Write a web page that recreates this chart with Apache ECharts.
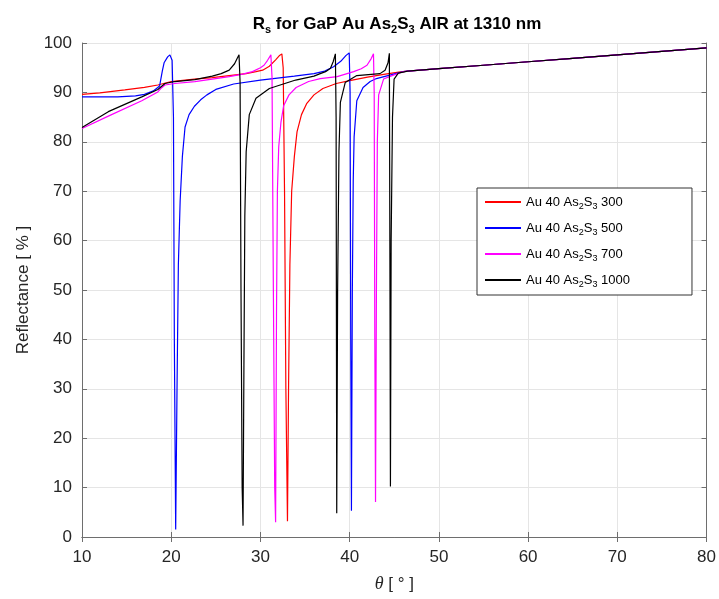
<!DOCTYPE html>
<html>
<head>
<meta charset="utf-8">
<script src="https://cdn.jsdelivr.net/npm/echarts@6/dist/echarts.min.js"></script>
<style>html,body{margin:0;padding:0;background:#fff;}#c{width:719px;height:599px;}</style>
</head>
<body>
<div id="c"></div>
<script>
// Shared tail (all curves merge above ~46°)
var tailTheta = [50, 55, 60, 65, 70, 75, 80];
var tailR     = [94.8, 95.5, 96.2, 96.9, 97.6, 98.3, 99.0];

var theta300 = [10, 12, 14.8, 17, 18.5, 20, 22.6, 24.6, 26.5, 28.4, 29.5, 30.25, 31, 31.7, 32.1, 32.4, 32.55, 32.7, 32.85, 33.03, 33.15, 33.3, 33.5, 33.8, 34.1, 34.6, 35.2, 36, 37, 38.5, 40, 42, 44, 45.5, 46.5];
var r300     = [89.6, 89.9, 90.5, 91.0, 91.5, 92.2, 92.7, 93.0, 93.4, 93.8, 94.2, 94.5, 95.3, 96.6, 97.4, 97.8, 95, 70, 30, 3.2, 30, 55, 70, 77, 82, 85.5, 87.8, 89.5, 90.8, 91.8, 92.4, 93.1, 93.7, 94.1, 94.3];

var theta500 = [10, 14, 16, 17, 18, 18.7, 19.0, 19.2, 19.6, 19.85, 20.1, 20.25, 20.35, 20.5, 20.65, 20.8, 21.0, 21.25, 21.55, 22.0, 22.6, 23.3, 24, 25, 27, 30, 33.8, 36, 37.2, 38.2, 39.0, 39.6, 39.95, 40.05, 40.12, 40.2, 40.3, 40.4, 40.5, 40.8, 41.5, 42.3, 43, 44.5, 46, 46.5];
var r500     = [89.1, 89.1, 89.3, 89.6, 90.3, 91.3, 94.3, 96.0, 97.2, 97.6, 96.5, 85, 40, 1.5, 30, 55, 68, 77, 83, 85.5, 87.2, 88.5, 89.5, 90.6, 91.7, 92.5, 93.3, 93.8, 94.3, 95.2, 96.3, 97.5, 98, 90, 40, 5.3, 50, 72, 81, 88.3, 91, 92.2, 92.8, 93.5, 94.2, 94.3];

var theta700 = [10, 12.95, 16.7, 18.5, 18.9, 19.3, 20.4, 22.65, 24.6, 26.5, 28, 29.1, 30.0, 30.4, 30.8, 31.17, 31.3, 31.45, 31.6, 31.7, 31.8, 31.9, 32.05, 32.3, 32.6, 33.2, 34, 35.4, 36.7, 38.6, 40.45, 41.3, 41.94, 42.4, 42.67, 42.75, 42.82, 42.9, 43.0, 43.1, 43.25, 43.8, 44.9, 46, 46.5];
var r700     = [82.7, 85.2, 88.3, 90.1, 90.9, 91.5, 91.8, 92.2, 92.7, 93.2, 93.7, 94.2, 95.0, 95.5, 96.5, 97.6, 93, 50, 10, 3.0, 45, 70, 79, 84, 87.3, 89.5, 91, 92.2, 92.8, 93.2, 94.2, 94.8, 95.5, 96.8, 97.8, 90, 40, 7.1, 50, 80, 89.5, 92.7, 93.5, 94.2, 94.3];

var theta1000 = [10, 12.95, 16.7, 18.5, 19.3, 20.4, 22.65, 24.6, 25.6, 26.5, 27.1, 27.4, 27.6, 27.72, 27.82, 27.95, 28.05, 28.15, 28.25, 28.4, 28.75, 29.5, 31.0, 33.95, 36, 36.7, 37.3, 37.85, 38.15, 38.4, 38.48, 38.55, 38.65, 38.8, 38.96, 39.5, 40.8, 43.4, 43.97, 44.3, 44.45, 44.52, 44.57, 44.65, 44.8, 44.98, 45.45, 46.5];
var r1000     = [82.9, 86.1, 89.1, 90.6, 91.8, 92.2, 92.6, 93.3, 93.8, 94.5, 95.8, 96.9, 97.6, 92, 50, 10, 2.3, 35, 65, 78, 85.5, 88.8, 90.8, 92.5, 93.3, 93.8, 94.2, 94.9, 96.2, 97.8, 85, 4.8, 50, 78, 88, 92, 93.4, 93.8, 94.5, 96, 97.9, 50, 10.2, 60, 85, 92.7, 93.9, 94.3];

var seriesNames  = ['Au 40 As2S3 300', 'Au 40 As2S3 500', 'Au 40 As2S3 700', 'Au 40 As2S3 1000'];
var seriesLabels = ['300', '500', '700', '1000'];
var seriesColors = ['#ff0000', '#0000ff', '#ff00ff', '#000000'];
var thetaSets = [theta300, theta500, theta700, theta1000];
var rSets     = [r300, r500, r700, r1000];

var xTicks = [10, 20, 30, 40, 50, 60, 70, 80];
var yTicks = [0, 10, 20, 30, 40, 50, 60, 70, 80, 90, 100];

function pairs(xs, ys) {
  var out = [];
  for (var i = 0; i < xs.length; i++) out.push([xs[i], ys[i]]);
  for (var j = 0; j < tailTheta.length; j++) out.push([tailTheta[j], tailR[j]]);
  return out;
}

var FONT = 'Liberation Sans, Arial, sans-serif';
var chart = echarts.init(document.getElementById('c'), null, {renderer: 'canvas'});

var series = seriesNames.map(function (n, i) {
  return {
    name: n, type: 'line', showSymbol: false, symbol: 'none',
    data: pairs(thetaSets[i], rSets[i]),
    lineStyle: {color: seriesColors[i], width: 1.2},
    itemStyle: {color: seriesColors[i]},
    z: 2 + i, animation: false
  };
});

var labelMap = {};
seriesNames.forEach(function (n, i) {
  labelMap[n] = '{a|Au 40 As}{s|2}{a|S}{s|3}{a| ' + seriesLabels[i] + '}';
});

chart.setOption({
  animation: false,
  backgroundColor: '#ffffff',
  title: {
    text: '{b|R}{bs|s}{b| for GaP Au As}{bs|2}{b|S}{bs|3}{b| AIR at 1310 nm}',
    left: 392, top: 6, textAlign: 'center',
    textStyle: {
      fontFamily: FONT,
      rich: {
        b: {fontSize: 17, fontWeight: 'bold', color: '#000', fontFamily: FONT, lineHeight: 22, verticalAlign: 'bottom'},
        bs: {fontSize: 11, fontWeight: 'bold', color: '#000', fontFamily: FONT, lineHeight: 22, verticalAlign: 'bottom', padding: [0, 0, -2, 0]}
      }
    }
  },
  legend: {
    orient: 'vertical', left: 477, top: 188,
    padding: [8, 62, 6, 7],
    itemWidth: 36, itemHeight: 14, itemGap: 11,
    backgroundColor: '#ffffff', borderColor: '#333333', borderWidth: 1,
    itemStyle: {opacity: 0},
    data: seriesNames,
    formatter: function (n) { return labelMap[n]; },
    textStyle: {
      fontFamily: FONT, fontSize: 13, color: '#000',
      rich: {
        a: {fontSize: 13, fontFamily: FONT, color: '#000', lineHeight: 14, verticalAlign: 'bottom'},
        s: {fontSize: 9, fontFamily: FONT, color: '#000', lineHeight: 14, verticalAlign: 'bottom', padding: [0, 0, -2, 0]}
      }
    }
  },
  grid: {left: 82, right: 12, top: 43, bottom: 62, containLabel: false},
  xAxis: [{
    type: 'value', min: 10, max: 80, interval: 10,
    name: '{i|θ} [ ° ]', nameLocation: 'middle', nameGap: 38,
    nameTextStyle: {fontFamily: FONT, fontSize: 17, color: '#262626',
      rich: {i: {fontStyle: 'italic', fontFamily: 'Liberation Serif, serif', fontSize: 18, color: '#262626'}}},
    axisLine: {show: true, lineStyle: {color: '#6e6e6e', width: 1}},
    axisTick: {show: true, inside: true, length: 5, lineStyle: {color: '#6e6e6e'}},
    axisLabel: {fontFamily: FONT, fontSize: 17, color: '#262626', margin: 12,
      formatter: function (v) { return xTicks.indexOf(v) >= 0 ? String(v) : ''; }},
    splitLine: {show: true, lineStyle: {color: '#e5e5e5', width: 1}}
  }, {
    type: 'value', min: 10, max: 80, interval: 10, position: 'top',
    axisLine: {show: true, lineStyle: {color: '#6e6e6e', width: 1}},
    axisTick: {show: true, inside: true, length: 5, lineStyle: {color: '#6e6e6e'}},
    axisLabel: {show: false}, splitLine: {show: false}
  }],
  yAxis: [{
    type: 'value', min: 0, max: 100, interval: 10,
    name: 'Reflectance [ % ]', nameLocation: 'middle', nameGap: 50,
    nameTextStyle: {fontFamily: FONT, fontSize: 17, color: '#262626'},
    axisLine: {show: true, lineStyle: {color: '#6e6e6e', width: 1}},
    axisTick: {show: true, inside: true, length: 5, lineStyle: {color: '#6e6e6e'}},
    axisLabel: {fontFamily: FONT, fontSize: 17, color: '#262626', margin: 10,
      formatter: function (v) { return yTicks.indexOf(v) >= 0 ? String(v) : ''; }},
    splitLine: {show: true, lineStyle: {color: '#e5e5e5', width: 1}}
  }, {
    type: 'value', min: 0, max: 100, interval: 10, position: 'right',
    axisLine: {show: true, lineStyle: {color: '#6e6e6e', width: 1}},
    axisTick: {show: true, inside: true, length: 5, lineStyle: {color: '#6e6e6e'}},
    axisLabel: {show: false}, splitLine: {show: false}
  }],
  series: series
});
</script>
</body>
</html>
